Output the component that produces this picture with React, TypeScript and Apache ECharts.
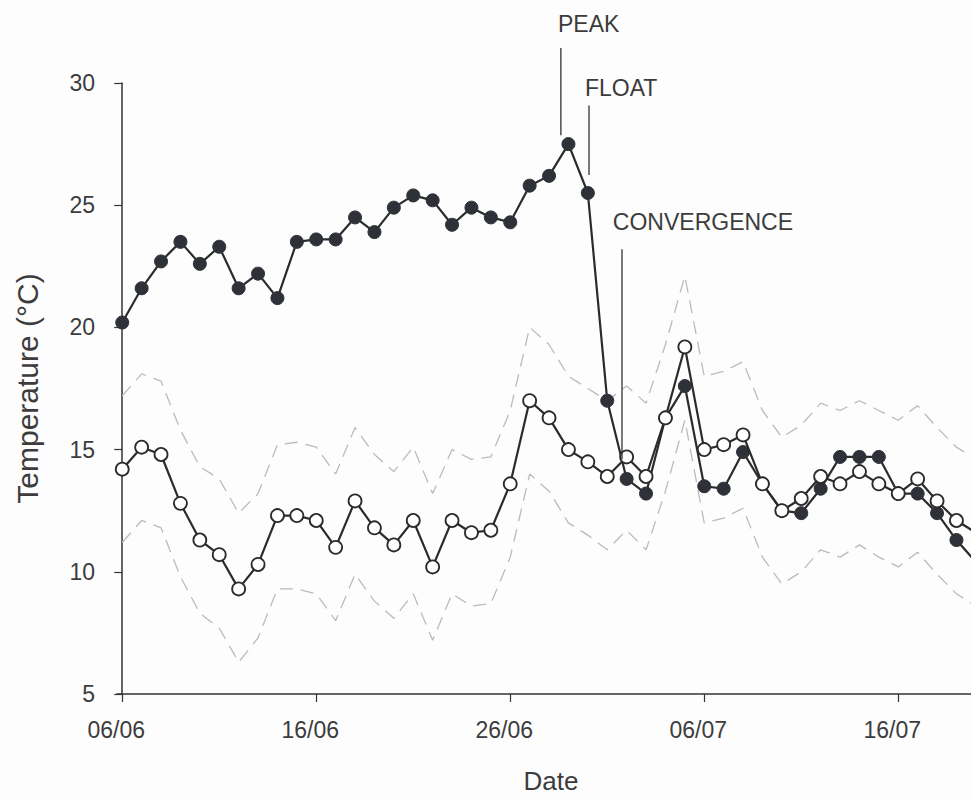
import React, { useEffect, useRef } from "react";
import * as echarts from "echarts";

// x = day offset from 06/06
const dates = [
  "06/06","07/06","08/06","09/06","10/06","11/06","12/06","13/06","14/06","15/06",
  "16/06","17/06","18/06","19/06","20/06","21/06","22/06","23/06","24/06","25/06",
  "26/06","27/06","28/06","29/06","30/06","01/07","02/07","03/07","04/07","05/07",
  "06/07","07/07","08/07","09/07","10/07","11/07","12/07","13/07","14/07","15/07",
  "16/07","17/07","18/07","19/07","20/07",
];

const filledSeries = [
  20.2, 21.6, 22.7, 23.5, 22.6, 23.3, 21.6, 22.2, 21.2, 23.5,
  23.6, 23.6, 24.5, 23.9, 24.9, 25.4, 25.2, 24.2, 24.9, 24.5,
  24.3, 25.8, 26.2, 27.5, 25.5, 17.0, 13.8, 13.2, 16.3, 17.6,
  13.5, 13.4, 14.9, 13.6, 12.5, 12.4, 13.4, 14.7, 14.7, 14.7,
  13.2, 13.2, 12.4, 11.3, 10.4,
];

const openSeries = [
  14.2, 15.1, 14.8, 12.8, 11.3, 10.7, 9.3, 10.3, 12.3, 12.3,
  12.1, 11.0, 12.9, 11.8, 11.1, 12.1, 10.2, 12.1, 11.6, 11.7,
  13.6, 17.0, 16.3, 15.0, 14.5, 13.9, 14.7, 13.9, 16.3, 19.2,
  15.0, 15.2, 15.6, 13.6, 12.5, 13.0, 13.9, 13.6, 14.1, 13.6,
  13.2, 13.8, 12.9, 12.1, 11.6,
];

const upperBound = [
  17.2, 18.1, 17.8, 15.8, 14.3, 13.8, 12.4, 13.2, 15.2, 15.3,
  15.1, 14.0, 15.9, 14.8, 14.1, 15.1, 13.2, 15.0, 14.6, 14.7,
  16.6, 20.0, 19.3, 18.0, 17.5, 17.0, 17.6, 16.9, 19.3, 22.1,
  18.0, 18.2, 18.6, 16.6, 15.5, 16.0, 16.9, 16.6, 17.0, 16.6,
  16.2, 16.8, 15.9, 15.1, 14.6,
];

const lowerBound = [
  11.2, 12.1, 11.8, 9.8, 8.3, 7.7, 6.3, 7.3, 9.3, 9.3,
  9.1, 8.0, 9.9, 8.8, 8.1, 9.1, 7.2, 9.1, 8.6, 8.7,
  10.6, 14.0, 13.3, 12.0, 11.5, 10.9, 11.7, 10.9, 13.3, 16.2,
  12.0, 12.2, 12.6, 10.6, 9.5, 10.0, 10.9, 10.6, 11.1, 10.6,
  10.2, 10.8, 9.9, 9.1, 8.6,
];

const tickDays = [0, 10, 20, 30, 40];
const yTicks = [5, 10, 15, 20, 25, 30];

// annotation: text anchor (day, value) and leader line (day, from value, to value)
const annotationLabels = ["PEAK", "FLOAT", "CONVERGENCE"];
const annotationTextDay = [22.46, 23.85, 25.29];
const annotationTextValue = [32.4, 29.8, 24.3];
const annotationLineDay = [22.61, 24.06, 25.76];
const annotationLineTop = [31.43, 29.08, 23.2];
const annotationLineBottom = [27.86, 26.24, 14.6];

const FONT = "'Liberation Sans', Arial, Helvetica, sans-serif";
const INK = "#2b2b2b";
const TEXT = "#3c3c3c";

export default function App() {
  const ref = useRef<HTMLDivElement>(null);

  useEffect(() => {
    if (!ref.current) return;
    const chart = echarts.init(ref.current, undefined, { renderer: "svg" });
    const pairs = (arr: number[]) => arr.map((v, i) => [i, v]);

    chart.setOption({
      animation: false,
      backgroundColor: "#fdfdfd",
      grid: { left: 117, right: 0, top: 83, bottom: 99, containLabel: false },
      xAxis: {
        type: "value",
        min: -0.27,
        max: 43.75,
        name: "Date",
        nameLocation: "middle",
        nameGap: 74,
        nameTextStyle: {
          fontFamily: FONT,
          fontSize: 26,
          color: TEXT,
          padding: [0, 0, 0, 14],
        },
        axisLine: { show: true, lineStyle: { color: "#333", width: 1.5 } },
        axisTick: {
          show: true,
          length: 8,
          customValues: tickDays,
          lineStyle: { color: "#333", width: 1.2 },
        },
        axisLabel: {
          customValues: tickDays,
          formatter: (v: number) => dates[Math.round(v)] ?? "",
          fontFamily: FONT,
          fontSize: 23,
          color: TEXT,
          margin: 24,
          padding: [0, 12, 0, 0],
        },
        splitLine: { show: false },
      },
      yAxis: {
        type: "value",
        min: 5,
        max: 30,
        interval: 5,
        name: "Temperature (°C)",
        nameLocation: "middle",
        nameRotate: 90,
        nameGap: 75,
        nameTextStyle: { fontFamily: FONT, fontSize: 30, color: TEXT },
        axisLine: { show: true, lineStyle: { color: "#333", width: 1.5 } },
        axisTick: { show: true, length: 8, lineStyle: { color: "#333", width: 1.2 } },
        axisLabel: {
          formatter: (v: number) => (yTicks.includes(v) ? String(v) : ""),
          fontFamily: FONT,
          fontSize: 23,
          color: TEXT,
          margin: 22,
        },
        splitLine: { show: false },
      },
      series: [
        {
          type: "line",
          data: pairs(upperBound),
          symbol: "none",
          lineStyle: { color: "#bbbbbb", width: 1.3, type: [13, 8] },
          z: 1,
        },
        {
          type: "line",
          data: pairs(lowerBound),
          symbol: "none",
          lineStyle: { color: "#bbbbbb", width: 1.3, type: [13, 8] },
          z: 1,
        },
        {
          type: "line",
          data: pairs(filledSeries),
          symbol: "circle",
          symbolSize: 13,
          lineStyle: { color: INK, width: 2.2 },
          itemStyle: { color: "#2e3138", borderColor: "#2e3138", borderWidth: 1 },
          z: 2,
        },
        {
          type: "line",
          data: pairs(openSeries),
          symbol: "circle",
          symbolSize: 13,
          lineStyle: { color: INK, width: 2.2 },
          itemStyle: { color: "#ffffff", borderColor: INK, borderWidth: 1.8 },
          z: 3,
        },
      ],
    });

    const px = (d: number, v: number) =>
      chart.convertToPixel({ gridIndex: 0 }, [d, v]) as number[];

    const graphics: any[] = [];
    annotationLabels.forEach((label, i) => {
      const t = px(annotationTextDay[i], annotationTextValue[i]);
      const a = px(annotationLineDay[i], annotationLineTop[i]);
      const b = px(annotationLineDay[i], annotationLineBottom[i]);
      graphics.push({
        type: "text",
        x: t[0],
        y: t[1],
        style: {
          text: label,
          fontFamily: FONT,
          fontSize: 23,
          fill: TEXT,
          textAlign: "left",
          textVerticalAlign: "middle",
        },
        z: 10,
      });
      graphics.push({
        type: "line",
        shape: { x1: a[0], y1: a[1], x2: b[0], y2: b[1] },
        style: { stroke: "#333", lineWidth: 1.3 },
        z: 10,
      });
    });
    chart.setOption({ graphic: graphics });

    return () => chart.dispose();
  }, []);

  return (
    <div
      ref={ref}
      style={{ position: "fixed", left: 0, top: 0, width: 971, height: 799 }}
    />
  );
}
